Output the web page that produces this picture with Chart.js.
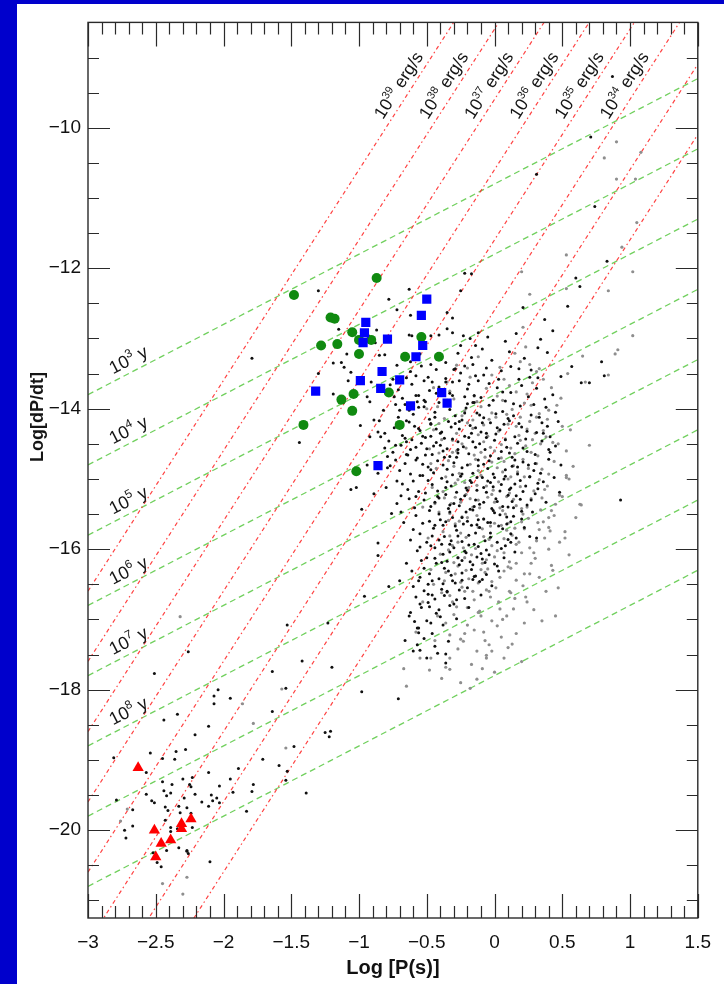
<!DOCTYPE html>
<html><head><meta charset="utf-8">
<script src="https://cdn.jsdelivr.net/npm/chart.js@4.4.1/dist/chart.umd.min.js"></script>
<style>
html,body{margin:0;padding:0;background:#0000cc;width:724px;height:984px;overflow:hidden}
#panel{position:absolute;left:17px;top:4px;width:707px;height:980px;background:#fff}
canvas{display:block}
</style></head><body>
<div id="panel"><canvas id="c" width="707" height="980"></canvas></div>
<script>
const FONT = "'Liberation Sans', Arial, Helvetica, sans-serif";

// axis tick labels
const xTickValues = [-3,-2.5,-2,-1.5,-1,-0.5,0,0.5,1,1.5];
const yTickValues = [-20,-18,-16,-14,-12,-10];

// reference lines: spin-down luminosity (erg/s) and characteristic age (yr)
const edotLevels = [39,38,37,36,35,34,33,32];
const edotLabelLevels = [39,38,37,36,35,34];
const ageLevels = [3,4,5,6,7,8,9,10];
const ageLabelLevels = [3,4,5,6,7,8];
const EDOT_CONST = 46.596;   // log10(4*pi^2*1e45)
const AGE_CONST = 7.800;     // log10(2*yr in s)

// special objects
const greenCircles = [[-0.87,-12.14],[-1.48,-12.38],[-1.21,-12.70],[-1.18,-12.72],[-1.05,-12.91],[-0.91,-13.02],[-1.00,-13.02],[-1.28,-13.10],[-1.16,-13.08],[-1.00,-13.22],[-0.54,-12.98],[-0.66,-13.26],[-0.41,-13.26],[-0.78,-13.77],[-1.04,-13.79],[-1.13,-13.87],[-1.05,-14.03],[-1.41,-14.23],[-0.70,-14.23],[-1.02,-14.89]];
const blueSquares = [[-0.50,-12.44],[-0.54,-12.67],[-0.95,-12.77],[-0.96,-12.92],[-0.79,-13.01],[-0.97,-13.06],[-0.53,-13.10],[-0.58,-13.26],[-0.83,-13.47],[-0.70,-13.59],[-0.99,-13.60],[-0.84,-13.71],[-1.32,-13.75],[-0.39,-13.77],[-0.35,-13.92],[-0.62,-13.96],[-0.86,-14.81]];
const redTriangles = [[-2.63,-19.11],[-2.24,-19.84],[-2.31,-19.91],[-2.31,-19.98],[-2.51,-20.00],[-2.39,-20.14],[-2.46,-20.19],[-2.50,-20.38]];

// black points
const blackUpperLeft = [[-1.30,-12.32],[-0.63,-12.30],[-0.78,-12.44],[-0.72,-12.59],[-0.62,-12.67],[-0.35,-12.63],[-0.31,-12.71],[-0.25,-12.32],[-0.22,-12.07],[-0.17,-12.08],[-1.15,-12.87],[-0.87,-12.88],[-0.93,-12.96],[-0.88,-13.06],[-0.63,-12.95],[-0.61,-12.96],[-0.47,-12.96],[-0.41,-12.95],[-0.35,-12.86],[-0.31,-12.92],[-0.23,-12.96],[-0.18,-13.00],[-0.25,-13.10],[-0.14,-13.10],[-0.12,-12.92],[-1.09,-13.22],[-1.19,-13.35],[-1.13,-13.34],[-0.85,-13.24],[-0.81,-13.23],[-1.06,-13.48],[-1.11,-13.41],[-0.72,-13.38],[-0.62,-13.33],[-0.54,-13.39],[-0.47,-13.37],[-0.36,-13.34],[-0.29,-13.43],[-0.22,-13.39],[-0.17,-13.27],[-1.30,-13.50],[-1.08,-13.60],[-0.91,-13.62],[-0.75,-13.58],[-0.65,-13.56],[-0.58,-13.53],[-0.46,-13.62],[-0.36,-13.57],[-0.26,-13.60],[-0.19,-13.65],[-0.14,-13.53],[-1.19,-13.79],[-0.94,-13.83],[-0.92,-13.90],[-0.74,-13.83],[-0.73,-13.94],[-0.56,-13.81],[-0.51,-13.90],[-0.43,-13.78],[-0.31,-13.81],[-0.22,-13.83],[-0.15,-13.81],[-1.44,-14.48],[-0.99,-14.24],[-0.89,-14.16],[-0.85,-14.17],[-0.86,-14.33],[-0.84,-14.40],[-0.92,-14.40],[-0.78,-14.46],[-0.73,-14.52],[-0.81,-14.56],[-0.65,-14.65],[-0.65,-14.47],[-0.56,-14.28],[-0.47,-14.21],[-1.02,-15.12],[-1.06,-15.15],[-0.89,-15.21],[-0.72,-15.03],[-0.94,-14.80],[-0.79,-14.84],[-1.79,-13.28]];
const blackUpperRight = [[0.71,-10.13],[0.87,-9.27],[0.31,-10.66],[0.74,-11.12],[0.83,-11.90],[0.60,-12.14],[0.63,-12.26],[0.54,-12.54],[0.21,-12.56],[0.37,-12.73],[0.43,-12.89],[0.34,-13.01],[0.32,-13.13],[0.39,-13.20],[0.79,-13.33],[0.57,-13.40],[0.27,-13.45],[0.49,-13.54],[0.81,-13.53],[0.64,-13.63],[0.70,-13.63],[0.48,-15.19],[0.93,-15.30]];
const blackMsp = [[-2.81,-18.97],[-2.54,-18.90],[-2.45,-18.98],[-2.35,-18.88],[-2.28,-18.85],[-2.36,-18.99],[-2.57,-19.18],[-2.45,-19.31],[-2.38,-19.35],[-2.44,-19.44],[-2.39,-19.47],[-2.42,-19.51],[-2.57,-19.49],[-2.53,-19.58],[-2.51,-19.61],[-2.30,-19.27],[-2.25,-19.35],[-2.24,-19.38],[-2.23,-19.25],[-2.11,-19.18],[-1.95,-19.27],[-1.89,-19.12],[-2.03,-19.37],[-1.93,-19.46],[-2.21,-19.49],[-2.29,-19.54],[-2.33,-19.66],[-2.27,-19.68],[-2.32,-19.75],[-2.24,-19.76],[-2.41,-19.72],[-2.43,-19.67],[-2.67,-19.71],[-2.79,-19.57],[-2.03,-19.61],[-2.11,-19.66],[-2.16,-19.60],[-2.08,-19.58],[-2.05,-19.54],[-1.83,-19.73],[-2.43,-19.86],[-2.39,-19.96],[-2.34,-19.98],[-2.39,-20.02],[-2.23,-19.96],[-2.73,-20.00],[-2.67,-19.94],[-2.72,-20.11],[-2.27,-20.29],[-2.26,-20.33],[-2.33,-20.25],[-2.10,-20.45],[-2.49,-20.46],[-2.46,-20.52],[-1.78,-19.35],[-1.79,-19.45],[-1.39,-19.47],[-2.52,-20.32],[-2.42,-20.29],[-2.27,-20.30]];
const blackBridge = [[-2.26,-17.46],[-2.51,-17.77],[-1.53,-17.08],[-1.64,-17.74],[-2.07,-18.09],[-2.04,-18.00],[-2.07,-18.20],[-1.95,-18.12],[-1.64,-18.31],[-1.54,-17.98],[-2.44,-18.43],[-2.34,-18.35],[-2.11,-18.52],[-2.21,-18.64],[-0.98,-15.43],[-0.86,-15.91],[-0.86,-16.09],[-0.96,-16.67],[-0.78,-16.53],[-1.23,-17.05],[-1.20,-17.68],[-1.42,-17.59],[-0.98,-18.03],[-0.71,-18.13],[-1.25,-18.61],[-1.21,-18.59],[-1.22,-18.67],[-1.48,-18.81],[-1.71,-18.99],[-1.59,-19.08],[-1.53,-19.16],[-1.54,-19.29],[-2.09,-19.50],[-0.36,-17.49],[-0.36,-17.62],[-0.56,-17.19],[-0.57,-17.12],[-0.59,-17.03],[-0.62,-16.90],[-0.54,-16.83],[-0.35,-16.61],[-0.49,-16.76],[0.03,-16.31],[-0.06,-16.36],[-0.11,-16.46],[-0.16,-16.43],[-0.24,-16.34],[-0.38,-16.49],[0.31,-15.84],[0.26,-15.82],[0.14,-15.53],[0.12,-15.78],[-0.03,-15.62],[0.08,-15.95],[-0.10,-16.06],[-0.24,-16.16],[-0.32,-15.88]];
const blackCloud = [[-0.05,-12.98],[0.08,-13.04],[0.16,-12.93],[-0.55,-13.22],[-0.02,-13.31],[0.11,-13.19],[0.22,-13.28],[-0.62,-13.47],[-0.49,-13.55],[-0.30,-13.44],[-0.08,-13.52],[0.05,-13.46],[0.18,-13.58],[-0.71,-13.73],[-0.58,-13.81],[-0.41,-13.69],[-0.33,-13.78],[-0.20,-13.72],[-0.10,-13.84],[0.02,-13.70],[0.12,-13.77],[0.25,-13.83],[-0.82,-14.02],[-0.66,-13.94],[-0.60,-14.08],[-0.52,-13.97],[-0.44,-14.05],[-0.37,-13.92],[-0.29,-14.10],[-0.21,-13.99],[-0.13,-14.06],[-0.04,-13.95],[0.06,-14.04],[0.14,-13.93],[0.27,-14.09],[0.38,-13.98],[-0.74,-14.27],[-0.63,-14.19],[-0.55,-14.31],[-0.47,-14.22],[-0.40,-14.35],[-0.34,-14.18],[-0.26,-14.29],[-0.18,-14.24],[-0.10,-14.33],[-0.03,-14.20],[0.04,-14.30],[0.11,-14.17],[0.20,-14.26],[0.31,-14.34],[-0.69,-14.52],[-0.61,-14.44],[-0.50,-14.57],[-0.43,-14.48],[-0.38,-14.60],[-0.31,-14.43],[-0.23,-14.54],[-0.16,-14.47],[-0.07,-14.58],[0.00,-14.45],[0.09,-14.55],[0.17,-14.49],[0.24,-14.61],[0.35,-14.46],[0.45,-14.53],[-0.66,-14.78],[-0.57,-14.70],[-0.49,-14.83],[-0.42,-14.74],[-0.35,-14.86],[-0.28,-14.69],[-0.20,-14.80],[-0.12,-14.73],[-0.05,-14.85],[0.03,-14.71],[0.13,-14.82],[0.21,-14.76],[0.29,-14.88],[0.40,-14.72],[-0.60,-15.03],[-0.53,-14.95],[-0.46,-15.08],[-0.39,-14.99],[-0.32,-15.10],[-0.25,-14.96],[-0.17,-15.05],[-0.09,-14.98],[-0.01,-15.11],[0.07,-15.00],[0.15,-15.07],[0.26,-14.97],[0.36,-15.04],[-0.63,-15.28],[-0.51,-15.20],[-0.44,-15.33],[-0.36,-15.22],[-0.30,-15.35],[-0.22,-15.24],[-0.14,-15.30],[-0.06,-15.19],[0.02,-15.32],[0.10,-15.23],[0.19,-15.29],[0.30,-15.21],[-0.58,-15.52],[-0.48,-15.45],[-0.40,-15.58],[-0.33,-15.47],[-0.24,-15.55],[-0.16,-15.44],[-0.08,-15.57],[0.00,-15.48],[0.09,-15.54],[0.20,-15.46],[-0.55,-15.78],[-0.45,-15.70],[-0.37,-15.82],[-0.28,-15.73],[-0.19,-15.80],[-0.11,-15.69],[-0.03,-15.77],[0.06,-15.71],[0.16,-15.84],[-0.57,-16.02],[-0.47,-15.95],[-0.38,-16.07],[-0.30,-15.98],[-0.21,-16.05],[-0.12,-15.96],[-0.04,-16.08],[0.05,-15.99],[-0.52,-16.27],[-0.43,-16.20],[-0.34,-16.31],[-0.26,-16.22],[-0.17,-16.29],[-0.07,-16.19],[-0.60,-16.53],[-0.46,-16.45],[-0.39,-16.57],[-0.29,-16.48],[-0.20,-16.55],[-0.55,-16.78],[-0.44,-16.71],[-0.33,-16.80],[-0.50,-17.02],[-0.40,-16.96],[-0.52,-17.27],
[-0.77,-13.66],[-0.52,-13.88],[-0.36,-13.62],[-0.15,-13.91],[-0.04,-13.64],[0.08,-13.89],[0.31,-13.71],[-0.71,-14.12],[-0.57,-13.90],[-0.48,-14.15],[-0.33,-14.01],[-0.24,-14.16],[-0.16,-13.91],[-0.08,-14.13],[0.01,-14.07],[0.10,-14.14],[0.19,-13.96],[0.33,-14.12],[-0.68,-14.38],[-0.59,-14.25],[-0.51,-14.41],[-0.43,-14.29],[-0.37,-14.42],[-0.29,-14.21],[-0.22,-14.39],[-0.14,-14.27],[-0.06,-14.41],[0.01,-14.36],[0.07,-14.22],[0.15,-14.40],[0.24,-14.32],[0.39,-14.25],[-0.75,-14.62],[-0.64,-14.66],[-0.54,-14.49],[-0.46,-14.65],[-0.40,-14.52],[-0.33,-14.68],[-0.27,-14.58],[-0.19,-14.64],[-0.11,-14.50],[-0.03,-14.67],[0.05,-14.61],[0.13,-14.69],[0.21,-14.56],[0.30,-14.65],[0.41,-14.62],[-0.70,-14.88],[-0.62,-14.93],[-0.53,-14.79],[-0.45,-14.91],[-0.38,-14.80],[-0.31,-14.94],[-0.24,-14.84],[-0.16,-14.92],[-0.08,-14.79],[-0.01,-14.93],[0.08,-14.87],[0.17,-14.93],[0.25,-14.80],[0.34,-14.92],[-0.64,-15.15],[-0.56,-15.18],[-0.49,-15.02],[-0.42,-15.17],[-0.35,-15.04],[-0.28,-15.19],[-0.21,-15.13],[-0.13,-15.16],[-0.05,-15.03],[0.04,-15.17],[0.12,-15.13],[0.21,-15.18],[0.32,-15.14],[-0.59,-15.41],[-0.47,-15.39],[-0.41,-15.27],[-0.34,-15.42],[-0.26,-15.38],[-0.18,-15.43],[-0.11,-15.36],[-0.02,-15.42],[0.06,-15.39],[0.14,-15.41],[0.24,-15.37],[-0.53,-15.63],[-0.44,-15.66],[-0.36,-15.61],[-0.29,-15.67],[-0.20,-15.60],[-0.13,-15.65],[-0.05,-15.62],[0.03,-15.67],[0.12,-15.61],[-0.50,-15.90],[-0.41,-15.87],[-0.33,-15.93],[-0.24,-15.89],[-0.15,-15.93],[-0.07,-15.88],[0.02,-15.90],[0.10,-15.86],[-0.54,-16.16],[-0.44,-16.13],[-0.35,-16.17],[-0.27,-16.12],[-0.18,-16.18],[-0.09,-16.14],[0.00,-16.21],[-0.55,-16.40],[-0.48,-16.35],[-0.41,-16.42],[-0.32,-16.37],[-0.24,-16.44],[-0.15,-16.39],[-0.58,-16.68],[-0.49,-16.64],[-0.41,-16.86],[-0.37,-16.66],[-0.28,-16.72],[-0.56,-17.12],[-0.46,-17.20],[-0.38,-17.08],[-0.60,-17.45],[-0.44,-17.38],[-0.50,-17.55]];
const blackCloud2 = [[-0.27,-14.63],[-0.19,-14.41],[-0.44,-14.12],[-0.58,-14.73],[-0.13,-14.98],[0.02,-14.27],[-0.35,-13.88],[-0.69,-15.24],[-0.21,-15.47],[0.11,-14.63],[-0.48,-13.74],[-0.61,-13.65],[-0.25,-13.49],[-0.40,-13.23],[-0.09,-13.15],[0.03,-13.58],[0.26,-13.55],[0.37,-13.86],[0.18,-14.21],[-0.81,-14.35],[-0.77,-14.81],[-0.72,-15.35],[-0.67,-15.62],[-0.62,-15.87],[-0.65,-16.20],[-0.70,-16.45],[-0.63,-16.95],[-0.66,-17.30],[-0.57,-17.36],[-0.47,-17.05],[-0.34,-17.31],[-0.28,-16.99],[-0.19,-16.83],[-0.10,-16.65],[-0.02,-16.52],[0.07,-16.12],[0.15,-16.04],[0.22,-15.69],[0.28,-15.47],[0.38,-15.33],[0.44,-14.98],[0.49,-14.80],[0.41,-14.40],[0.47,-14.18],[0.35,-14.20],[0.29,-13.94],[0.43,-13.80],[0.12,-13.40],[-0.16,-13.37],[-0.31,-13.62],[-0.53,-14.39],[-0.45,-14.53],[-0.30,-14.77],[-0.14,-14.55],[-0.04,-14.74],[0.08,-14.96],[0.16,-15.24],[-0.08,-15.12],[-0.25,-15.29],[-0.41,-15.50],[-0.52,-15.30],[-0.60,-15.72],[-0.46,-15.81],[-0.33,-16.04],[-0.19,-15.94],[-0.03,-15.83],[0.09,-15.64],[0.01,-15.28],[-0.17,-15.66],[-0.38,-15.66],[-0.49,-16.50],[-0.37,-16.27],[-0.26,-16.58],[-0.13,-16.11],[-0.43,-16.91],[-0.52,-16.59],[-0.61,-16.31],[-0.55,-15.97],[-0.68,-15.07],[-0.79,-14.68],[-0.86,-14.92],[-0.80,-15.12],[-0.76,-15.49],[-0.83,-13.74],[-0.68,-13.85],[-0.63,-14.02],[-0.58,-14.55],[-0.47,-14.87],[-0.39,-14.33],[-0.27,-14.47],[-0.22,-14.06],[-0.09,-14.20],[-0.01,-13.88],[0.14,-14.10],[0.23,-14.43],[0.30,-14.78],[0.19,-15.02],[0.10,-15.40],[-0.12,-15.58],[-0.27,-15.81],[-0.44,-15.98],[-0.50,-16.12],[-0.31,-16.45],[-0.16,-16.22],[-0.06,-16.01],[0.04,-15.51],[-0.35,-14.57],[-0.17,-14.35],[-0.55,-14.95],[-0.42,-15.25],[-0.20,-15.16],[-0.31,-15.55],[0.00,-14.98],[0.15,-14.73],[0.32,-15.06],[-0.06,-14.35],[0.06,-13.76],[0.20,-13.67],[-0.12,-13.60],[-0.20,-13.93],
[-0.24,-14.93],[-0.37,-14.69],[-0.51,-14.66],[-0.66,-14.42],[-0.70,-14.02],[-0.52,-13.60],[-0.43,-13.44],[-0.27,-13.21],[-0.06,-13.42],[0.18,-13.43],[0.32,-13.56],[0.45,-14.05],[0.40,-14.58],[0.26,-14.97],[0.11,-15.15],[-0.01,-15.45],[-0.14,-15.77],[-0.22,-16.03],[-0.39,-16.19],[-0.56,-16.45],[-0.46,-16.65],[-0.30,-16.78],[-0.14,-16.38],[0.02,-16.24],[0.12,-15.90],[0.20,-15.57],[0.27,-15.30],[-0.11,-14.09],[-0.32,-14.26],[-0.47,-14.39],[-0.62,-14.58],[-0.73,-14.73],[-0.69,-15.47],[-0.58,-15.25],[-0.36,-15.12],[-0.15,-15.39],[0.05,-15.08],[0.17,-14.83],[0.08,-14.44],[-0.26,-14.18],[-0.41,-13.91],[-0.56,-13.98],[-0.65,-14.17],[-0.12,-14.81],[-0.03,-15.05],[-0.18,-15.02],[-0.33,-15.37],[-0.48,-15.60],[-0.39,-15.93],[-0.23,-15.64],[-0.08,-15.33],[0.13,-15.32],[0.23,-15.10],[0.36,-14.35],[-0.55,-17.44],[-0.42,-17.48],[-0.48,-16.82],[-0.35,-16.60],[-0.22,-16.70],[-0.09,-16.43]];

// grey points
const greyCloud = [[-0.12,-13.26],[0.04,-13.41],[0.19,-13.33],[0.31,-13.47],[-0.28,-13.38],[-0.35,-13.62],[-0.18,-13.55],[-0.06,-13.71],[0.07,-13.58],[0.16,-13.76],[0.28,-13.63],[0.42,-13.70],[-0.42,-13.97],[-0.30,-13.86],[-0.22,-14.03],[-0.13,-13.90],[-0.02,-14.06],[0.06,-13.88],[0.13,-14.01],[0.22,-13.92],[0.33,-14.07],[0.46,-13.95],[-0.45,-14.30],[-0.37,-14.14],[-0.28,-14.35],[-0.20,-14.20],[-0.12,-14.37],[-0.04,-14.15],[0.03,-14.32],[0.10,-14.22],[0.18,-14.38],[0.26,-14.18],[0.36,-14.31],[0.50,-14.25],[-0.48,-14.57],[-0.39,-14.44],[-0.31,-14.62],[-0.24,-14.50],[-0.15,-14.66],[-0.08,-14.47],[0.00,-14.60],[0.08,-14.43],[0.15,-14.64],[0.23,-14.53],[0.32,-14.67],[0.43,-14.48],[-0.43,-14.85],[-0.34,-14.74],[-0.26,-14.92],[-0.18,-14.79],[-0.10,-14.95],[-0.02,-14.76],[0.06,-14.90],[0.14,-14.81],[0.22,-14.97],[0.31,-14.78],[0.40,-14.93],[-0.46,-15.12],[-0.37,-15.27],[-0.29,-15.06],[-0.21,-15.22],[-0.13,-15.09],[-0.05,-15.26],[0.03,-15.04],[0.11,-15.20],[0.19,-15.11],[0.27,-15.28],[0.37,-15.15],[0.48,-15.23],[-0.41,-15.47],[-0.32,-15.35],[-0.24,-15.54],[-0.16,-15.40],[-0.08,-15.57],[0.00,-15.33],[0.08,-15.50],[0.16,-15.38],[0.25,-15.56],[0.34,-15.44],[0.44,-15.52],[-0.38,-15.75],[-0.29,-15.64],[-0.21,-15.83],[-0.12,-15.69],[-0.04,-15.86],[0.05,-15.66],[0.13,-15.80],[0.22,-15.71],[0.31,-15.88],[0.41,-15.74],[-0.40,-16.07],[-0.31,-15.95],[-0.22,-16.12],[-0.14,-15.99],[-0.06,-16.15],[0.02,-16.02],[0.11,-16.18],[0.20,-16.05],[0.30,-16.13],[-0.36,-16.33],[-0.27,-16.24],[-0.19,-16.42],[-0.10,-16.29],[-0.02,-16.46],[0.07,-16.31],[0.16,-16.44],[0.26,-16.35],[-0.33,-16.66],[-0.24,-16.54],[-0.15,-16.72],[-0.06,-16.58],[0.03,-16.75],[0.12,-16.62],[-0.30,-16.93],[-0.20,-17.08],[-0.11,-16.88],[-0.02,-17.02],[0.09,-16.95],[-0.23,-17.31],[-0.13,-17.45],[-0.04,-17.36],[-0.17,-17.64],
[-0.33,-13.75],[-0.10,-13.97],[0.02,-13.82],[0.19,-14.12],[0.39,-14.15],[-0.41,-14.63],[-0.16,-14.28],[0.05,-14.51],[0.28,-14.44],[-0.36,-14.97],[-0.07,-14.69],[0.10,-15.00],[0.35,-14.86],[-0.25,-15.33],[-0.01,-15.16],[0.20,-15.42],[0.45,-15.36],[-0.34,-15.59],[-0.09,-15.71],[0.10,-15.63],[0.36,-15.61],[-0.27,-15.90],[-0.02,-15.95],[0.16,-15.93],[-0.30,-16.19],[-0.07,-16.33],[0.12,-16.27],[-0.22,-16.60],[0.01,-16.55],[-0.28,-16.82],[-0.08,-17.18],[0.05,-17.25],[-0.33,-17.22],[0.23,-16.68],[0.33,-16.40],[0.40,-16.00],[0.52,-15.75],[0.55,-15.00],[0.53,-14.60],[-0.50,-14.00],[-0.53,-15.40],[-0.45,-16.50],[-0.55,-17.55],[-0.48,-17.72],[-0.36,-17.68],[-0.25,-17.90],[-0.06,-17.55],[0.10,-17.40],[-0.65,-17.95]];
const greyCloud2 = [[-0.21,-14.56],[-0.05,-14.39],[0.12,-14.56],[0.27,-14.62],[0.38,-14.40],[-0.30,-14.82],[-0.12,-14.88],[0.02,-14.84],[0.17,-14.90],[0.33,-15.01],[-0.38,-15.18],[-0.19,-15.12],[-0.02,-15.22],[0.14,-15.29],[0.29,-15.17],[0.42,-15.45],[-0.33,-15.49],[-0.13,-15.52],[0.04,-15.41],[0.20,-15.61],[0.37,-15.84],[-0.25,-15.77],[-0.08,-15.82],[0.09,-15.73],[0.26,-15.98],[-0.34,-16.01],[-0.17,-16.08],[0.00,-16.11],[0.16,-16.20],[-0.29,-16.35],[-0.12,-16.48],[0.04,-16.40],[0.21,-16.52],[-0.39,-16.62],[-0.20,-16.83],[-0.03,-16.68],[0.14,-16.85],[-0.36,-17.05],[-0.15,-17.15],[0.02,-17.09],[-0.27,-17.42],[-0.09,-17.70],[0.07,-17.55],[-0.44,-17.30],[-0.39,-17.84],[-0.18,-17.98],[0.16,-17.20],[0.29,-16.86],[0.43,-16.30],[0.48,-15.90],[-0.24,-14.10],[-0.08,-14.23],[0.09,-14.08],[0.24,-14.29],[0.40,-14.02],[-0.15,-13.82],[0.11,-13.67],[0.24,-13.79],[0.36,-13.58],[-0.02,-13.52],[0.15,-13.21],[0.26,-13.37],[-0.20,-13.42],[0.49,-13.85],[0.56,-14.30],[0.58,-14.82],[0.60,-15.55],[0.55,-16.08],[0.47,-16.55],[0.35,-17.02],[-0.47,-14.78],[-0.44,-15.35],[-0.49,-15.84],[-0.47,-16.29],[-0.53,-16.75],[-0.58,-17.18],[-0.27,-15.01],[-0.11,-15.41],[0.07,-15.85],[0.27,-16.20],[-0.31,-14.45],[-0.14,-14.72],[0.05,-14.70],[0.21,-14.72],[0.35,-15.27],[-0.23,-15.98],[-0.05,-16.28],[0.11,-16.60],[-0.25,-16.47],[-0.10,-16.95],[0.19,-14.45],[0.31,-14.12],[-0.36,-13.92],[-0.41,-14.21],[-0.18,-15.28],[0.00,-15.63],[0.18,-15.90],[-0.33,-15.81],[-0.16,-16.60],[0.06,-17.00],[0.12,-14.97],[-0.03,-14.55],[-0.26,-15.60],[0.32,-15.62],[0.24,-16.75],[-0.07,-17.30],[0.10,-16.25],[-0.37,-16.45],[0.44,-14.75],[-0.45,-13.70],
[-0.16,-14.16],[0.01,-14.12],[0.16,-14.25],[0.30,-14.35],[-0.28,-14.60],[-0.10,-14.62],[0.07,-14.75],[0.25,-14.85],[0.39,-15.10],[-0.22,-15.05],[-0.06,-15.10],[0.09,-15.25],[0.24,-15.40],[-0.29,-15.26],[-0.12,-15.30],[0.06,-15.45],[0.21,-15.50],[0.33,-15.72],[-0.20,-15.55],[-0.03,-15.67],[0.15,-15.70],[0.29,-16.05],[-0.27,-16.12],[-0.09,-16.20],[0.07,-16.05],[0.22,-16.35],[-0.21,-16.30],[-0.04,-16.60],[0.15,-16.70],[-0.31,-16.75],[-0.12,-16.90],[0.04,-16.85],[0.22,-17.05],[-0.22,-17.20],[-0.02,-17.45],[0.13,-17.35],[-0.33,-17.55],[-0.13,-17.85],[0.00,-17.75],[0.20,-17.60],[-0.42,-16.95],[-0.47,-17.55],[0.38,-16.60],[0.45,-16.95],[0.50,-15.25],[0.40,-15.55],[0.53,-14.95],[0.34,-14.50],[0.47,-14.50],[0.27,-13.95]];
const greyUpperRight = [[0.90,-10.20],[1.08,-10.35],[0.81,-10.43],[0.90,-10.73],[1.04,-10.73],[1.05,-11.35],[0.20,-12.05],[0.53,-11.81],[0.94,-11.70],[1.02,-12.05],[0.53,-12.29],[0.84,-12.32],[0.26,-12.37],[0.21,-12.84],[1.02,-12.96],[0.23,-13.12],[0.65,-13.25],[0.91,-13.16],[0.89,-13.22],[0.33,-13.43],[0.54,-13.50],[0.84,-13.52],[0.67,-13.62],[0.70,-14.52],[0.53,-14.98],[0.63,-15.36],[0.42,-16.23],[0.52,-15.84],[0.40,-15.69],[0.64,-15.37]];
const greyLow = [[-2.45,-20.76],[-2.27,-20.67],[-2.30,-20.91],[-2.71,-19.70],[-2.76,-19.87],[-2.32,-16.96],[-1.86,-18.20],[-1.57,-17.99],[-1.78,-18.48],[-1.54,-18.83],[-0.06,-17.51],[-0.67,-17.70],[-0.33,-17.71],[-0.25,-17.28]];

const toXY = a => a.map(p => ({x:p[0], y:p[1]}));
const fmt = v => { const r = Math.round(v*10)/10; return (r < 0 ? '\u2212' : '') + Math.abs(r); };

const X_MIN = -3, X_MAX = 1.5, Y_MIN = -21.25, Y_MAX = -8.5;

const lineSets = [];
edotLevels.forEach(L => {
  lineSets.push({type:'line', data:[{x:X_MIN, y:L - EDOT_CONST + 3*X_MIN},{x:X_MAX, y:L - EDOT_CONST + 3*X_MAX}],
    borderColor:'rgba(255,45,45,0.9)', borderWidth:1.2, borderDash:[4,3,1.5,3], pointRadius:0, fill:false, order:10});
});
ageLevels.forEach(a => {
  lineSets.push({type:'line', data:[{x:X_MIN, y:X_MIN - AGE_CONST - a},{x:X_MAX, y:X_MAX - AGE_CONST - a}],
    borderColor:'rgba(105,205,85,0.95)', borderWidth:1.3, borderDash:[6,4], pointRadius:0, fill:false, order:10});
});

const framePlugin = {
  id:'frameTicks',
  afterDatasetsDraw(chart){
    const {ctx, chartArea:{left,right,top,bottom}, scales:{x,y}} = chart;
    ctx.save();
    ctx.strokeStyle = '#2a2a2a';
    ctx.lineWidth = 1.4;
    ctx.strokeRect(left, top, right-left, bottom-top);
    ctx.lineWidth = 1.2;
    ctx.beginPath();
    for (let i = 0; i <= 45; i++) {
      const v = X_MIN + i*0.1;
      const px = Math.round(x.getPixelForValue(v)) + 0.5;
      const len = (i % 5 === 0) ? 24 : 12;
      ctx.moveTo(px, bottom); ctx.lineTo(px, bottom - len);
      ctx.moveTo(px, top); ctx.lineTo(px, top + len);
    }
    for (let i = 0; i <= 24; i++) {
      const v = -21 + i*0.5;
      if (v >= Y_MAX) break;
      const py = Math.round(y.getPixelForValue(v)) + 0.5;
      const len = (Number.isInteger(v) && v % 2 === 0) ? 22 : 11;
      ctx.moveTo(left, py); ctx.lineTo(left + len, py);
      ctx.moveTo(right, py); ctx.lineTo(right - len, py);
    }
    ctx.stroke();
    ctx.restore();
  }
};

function drawPow(ctx, base, exp, rest, cx, cy, size){
  const fb = size + 'px ' + FONT, fe = Math.round(size*0.64) + 'px ' + FONT;
  ctx.font = fb; const wb = ctx.measureText(base).width; const wr = ctx.measureText(rest).width;
  ctx.font = fe; const we = ctx.measureText(exp).width;
  let x0 = cx - (wb + we + wr)/2;
  const base_y = cy + size*0.36;
  ctx.textAlign = 'left'; ctx.textBaseline = 'alphabetic';
  ctx.font = fb; ctx.fillText(base, x0, base_y); x0 += wb;
  ctx.font = fe; ctx.fillText(exp, x0, base_y - size*0.42); x0 += we;
  ctx.font = fb; ctx.fillText(rest, x0, base_y);
}

const labelPlugin = {
  id:'lineLabels',
  afterDatasetsDraw(chart){
    const {ctx, scales:{x,y}} = chart;
    const ux = x.getPixelForValue(1) - x.getPixelForValue(0);
    const uy = y.getPixelForValue(0) - y.getPixelForValue(1);
    const angR = Math.atan2(3*uy, ux);
    const angG = Math.atan2(uy, ux);
    ctx.save();
    ctx.fillStyle = '#151515';
    const edotLabelY = -9.49;
    edotLabelLevels.forEach(L => {
      const xv = (edotLabelY - L + EDOT_CONST)/3;
      ctx.save();
      ctx.translate(x.getPixelForValue(xv), y.getPixelForValue(edotLabelY));
      ctx.rotate(-angR);
      drawPow(ctx, '10', String(L), ' erg/s', 0, -13, 17.5);
      ctx.restore();
    });
    const ageLabelX = -2.66;
    ageLabelLevels.forEach(a => {
      const yv = ageLabelX - AGE_CONST - a;
      ctx.save();
      ctx.translate(x.getPixelForValue(ageLabelX), y.getPixelForValue(yv));
      ctx.rotate(-angG);
      drawPow(ctx, '10', String(a), ' y', 0, -13, 18);
      ctx.restore();
    });
    // y axis title
    ctx.save();
    ctx.translate(21, 413);
    ctx.rotate(-Math.PI/2);
    ctx.font = 'bold 18px ' + FONT;
    ctx.textAlign = 'center'; ctx.textBaseline = 'middle';
    ctx.fillText('Log[dP/dt]', 0, 0);
    ctx.restore();
    ctx.restore();
  }
};

new Chart(document.getElementById('c'), {
  type:'scatter',
  data:{datasets:[
    {data:toXY(redTriangles), pointStyle:'triangle', pointRadius:6.5, backgroundColor:'#ff0000', borderWidth:0, order:0},
    {data:toXY(blueSquares), pointStyle:'rect', pointRadius:6.5, backgroundColor:'#0000ff', borderWidth:0, order:0},
    {data:toXY(greenCircles), pointStyle:'circle', pointRadius:5, backgroundColor:'#108a10', borderWidth:0, order:1},
    {data:toXY(greyCloud.concat(greyCloud2, greyUpperRight, greyLow)), pointRadius:1.6, backgroundColor:'#8e8e8e', borderWidth:0, order:3},
    {data:toXY(blackUpperLeft.concat(blackUpperRight, blackMsp, blackBridge, blackCloud, blackCloud2)), pointRadius:1.5, backgroundColor:'#101010', borderWidth:0, order:2},
    ...lineSets
  ]},
  options:{
    responsive:false, animation:false, devicePixelRatio:1,
    layout:{padding:{left:0, top:11, right:25, bottom:0}},
    plugins:{legend:{display:false}, tooltip:{enabled:false}},
    scales:{
      x:{type:'linear', min:X_MIN, max:X_MAX, position:'bottom',
        grid:{display:false, drawTicks:false}, border:{display:false},
        afterBuildTicks: s => { s.ticks = xTickValues.map(v => ({value:v})); },
        ticks:{padding:13, autoSkip:false, maxRotation:0, color:'#111', font:{size:19, family:FONT}, callback:v => fmt(v)},
        title:{display:true, text:'Log [P(s)]', color:'#111', font:{size:20, weight:'bold', family:FONT}, padding:{top:0, bottom:4}},
        afterFit: s => { s.height = 66; }
      },
      y:{type:'linear', min:Y_MIN, max:Y_MAX, position:'left',
        grid:{display:false, drawTicks:false}, border:{display:false},
        afterBuildTicks: s => { s.ticks = yTickValues.map(v => ({value:v})); },
        ticks:{padding:7, autoSkip:false, color:'#111', font:{size:19, family:FONT}, callback:v => fmt(v)},
        afterFit: s => { s.width = 71; }
      }
    }
  },
  plugins:[labelPlugin, framePlugin]
});
</script>
</body></html>
